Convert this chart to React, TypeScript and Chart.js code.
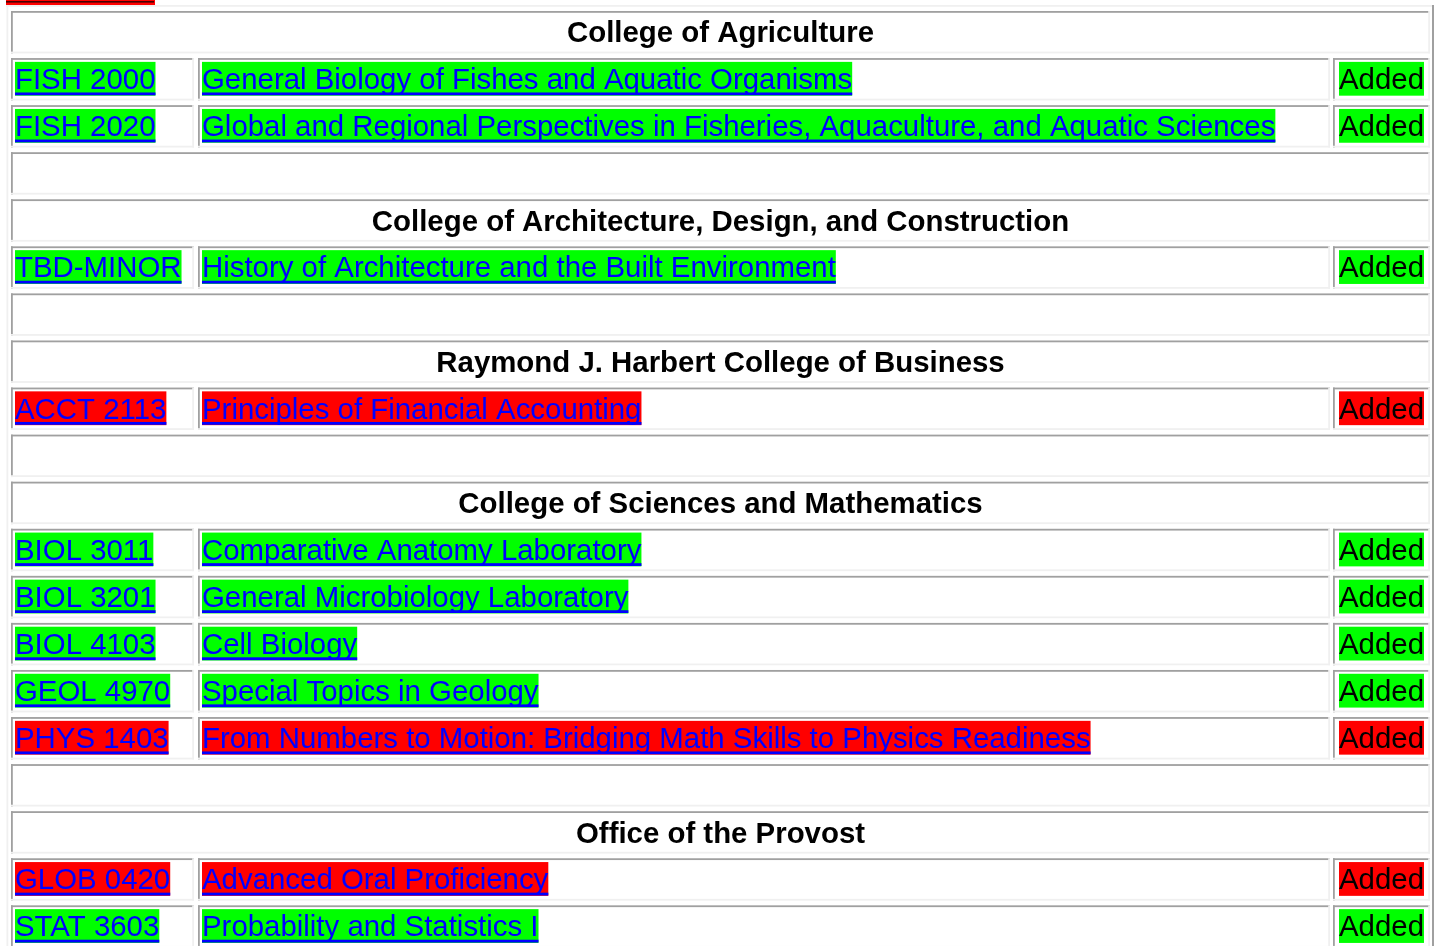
import React, { useEffect, useRef } from "react";
import { Chart, registerables } from "chart.js";

Chart.register(...registerables);

// ---- data ----
const sectionNames = [
  "College of Agriculture",
  "College of Architecture, Design, and Construction",
  "Raymond J. Harbert College of Business",
  "College of Sciences and Mathematics",
  "Office of the Provost",
];
const courseCodes = [
  "FISH 2000",
  "FISH 2020",
  "TBD-MINOR",
  "ACCT 2113",
  "BIOL 3011",
  "BIOL 3201",
  "BIOL 4103",
  "GEOL 4970",
  "PHYS 1403",
  "GLOB 0420",
  "STAT 3603",
];
const courseTitles = [
  "General Biology of Fishes and Aquatic Organisms",
  "Global and Regional Perspectives in Fisheries, Aquaculture, and Aquatic Sciences",
  "History of Architecture and the Built Environment",
  "Principles of Financial Accounting",
  "Comparative Anatomy Laboratory",
  "General Microbiology Laboratory",
  "Cell Biology",
  "Special Topics in Geology",
  "From Numbers to Motion: Bridging Math Skills to Physics Readiness",
  "Advanced Oral Proficiency",
  "Probability and Statistics I",
];
const courseSections = [0, 0, 1, 2, 3, 3, 3, 3, 3, 4, 4];
const courseActions = [
  "Added", "Added", "Added", "Added", "Added", "Added",
  "Added", "Added", "Added", "Added", "Added",
];
const courseFlags = [
  "ok", "ok", "ok", "flag", "ok", "ok", "ok", "ok", "flag", "flag", "ok",
];

// ---- styles / layout ----
const FLAG_COLORS: Record<string, string> = { ok: "#00ff00", flag: "#ff0000" };
const LINK_COLOR = "#0000ff";
const DARK = "#a0a0a0";
const LIGHT = "#f0f0f0";
const FONT = '"Liberation Sans", Arial, Helvetica, sans-serif';
const FS = 29.4;
const W = 1442;
const H = 946;
const ROW_PITCH = 47.07;
const FIRST_ROW_CENTER = 32.2;
const CELL_HALF = 21.2;
const COLS = [
  [11, 194],
  [198, 1330],
  [1333, 1430],
];
const FULL = [11, 1430];

type Row =
  | { kind: "header"; section: number }
  | { kind: "course"; course: number }
  | { kind: "blank" };

function buildRows(): Row[] {
  const rows: Row[] = [];
  sectionNames.forEach((_, s) => {
    if (s > 0) rows.push({ kind: "blank" });
    rows.push({ kind: "header", section: s });
    courseSections.forEach((cs, c) => {
      if (cs === s) rows.push({ kind: "course", course: c });
    });
  });
  return rows;
}

const tablePlugin = {
  id: "tablePlugin",
  beforeDraw(chart: any) {
    const { ctx } = chart;
    ctx.save();
    ctx.fillStyle = "#ffffff";
    ctx.fillRect(0, 0, chart.width, chart.height);
    ctx.restore();
  },
  afterDraw(chart: any) {
    const { ctx } = chart;
    const xs = chart.scales.x;
    const ys = chart.scales.y;
    const X = (v: number) => xs.getPixelForValue(v);
    const rows = buildRows();
    ctx.save();

    const box = (x0: number, x1: number, top: number, bottom: number) => {
      const l = X(x0);
      const r = X(x1);
      ctx.fillStyle = "#ffffff";
      ctx.fillRect(l, top, r - l, bottom - top);
      ctx.fillStyle = DARK;
      ctx.fillRect(l, top, r - l, 1.8);
      ctx.fillRect(l, top, 1.8, bottom - top);
      ctx.fillStyle = LIGHT;
      ctx.fillRect(l, bottom - 1.8, r - l, 1.8);
      ctx.fillRect(r - 1.8, top, 1.8, bottom - top);
    };

    const linkText = (
      text: string,
      x0: number,
      center: number,
      bg: string,
      color: string,
      underline: boolean
    ) => {
      ctx.font = `${FS}px ${FONT}`;
      const w = ctx.measureText(text).width;
      const l = X(x0);
      ctx.fillStyle = bg;
      ctx.fillRect(l, center - 17.4, w, 33.8);
      ctx.fillStyle = color;
      ctx.textBaseline = "alphabetic";
      ctx.textAlign = "left";
      ctx.fillText(text, l, center + 9.9);
      if (underline) {
        ctx.fillRect(l, center + 13.2, w, 2.8);
      }
    };

    // fragment of the element above the table
    const topPx = ys.getPixelForValue(-1) + ROW_PITCH - FIRST_ROW_CENTER;
    ctx.fillStyle = "#ff0000";
    ctx.fillRect(X(6), topPx, X(155) - X(6), 5);
    ctx.fillStyle = "rgba(40,0,0,0.85)";
    ctx.fillRect(X(6), topPx + 1, X(154) - X(6), 1.6);

    // outer table border (outset)
    const tableTop = ys.getPixelForValue(0) - CELL_HALF - 6;
    ctx.fillStyle = LIGHT;
    ctx.fillRect(X(6), tableTop, X(1434) - X(6), 1.8);
    ctx.fillRect(X(6.5), tableTop, 1.8, chart.height - tableTop);
    ctx.fillStyle = DARK;
    ctx.fillRect(X(1432), tableTop, 2, chart.height - tableTop);

    rows.forEach((row, i) => {
      const c = ys.getPixelForValue(i);
      const top = c - CELL_HALF;
      const bottom = c + CELL_HALF;
      if (row.kind === "blank") {
        box(FULL[0], FULL[1], top, bottom);
      } else if (row.kind === "header") {
        box(FULL[0], FULL[1], top, bottom);
        ctx.font = `bold ${FS}px ${FONT}`;
        ctx.fillStyle = "#000000";
        ctx.textAlign = "center";
        ctx.textBaseline = "alphabetic";
        ctx.fillText(
          sectionNames[row.section],
          (X(FULL[0]) + X(FULL[1])) / 2,
          c + 10.2
        );
      } else {
        const k = row.course;
        const bg = FLAG_COLORS[courseFlags[k]];
        COLS.forEach(([a, b]) => box(a, b, top, bottom));
        linkText(courseCodes[k], COLS[0][0] + 4, c, bg, LINK_COLOR, true);
        linkText(courseTitles[k], COLS[1][0] + 4, c, bg, LINK_COLOR, true);
        linkText(courseActions[k], COLS[2][0] + 6, c, bg, "#000000", false);
      }
    });
    ctx.restore();
  },
};

export default function App() {
  const ref = useRef<HTMLCanvasElement | null>(null);
  useEffect(() => {
    document.body.style.margin = "0";
    document.body.style.overflow = "hidden";
    const canvas = ref.current;
    if (!canvas) return;
    const chart = new Chart(canvas, {
      type: "scatter",
      data: {
        labels: buildRows().map((_, i) => String(i)),
        datasets: [{ data: [], pointRadius: 0 }],
      },
      options: {
        animation: false,
        responsive: false,
        devicePixelRatio: 1,
        layout: { padding: 0 },
        events: [],
        scales: {
          x: { type: "linear", min: 0, max: W, display: false },
          y: {
            type: "linear",
            reverse: true,
            min: -FIRST_ROW_CENTER / ROW_PITCH,
            max: (H - FIRST_ROW_CENTER) / ROW_PITCH,
            display: false,
          },
        },
        plugins: {
          legend: { display: false },
          tooltip: { enabled: false },
          title: { display: false },
        },
      },
      plugins: [tablePlugin],
    } as any);
    return () => chart.destroy();
  }, []);
  return (
    <div style={{ position: "fixed", left: 0, top: 0, width: W, height: H }}>
      <canvas ref={ref} width={W} height={H} style={{ display: "block" }} />
    </div>
  );
}
